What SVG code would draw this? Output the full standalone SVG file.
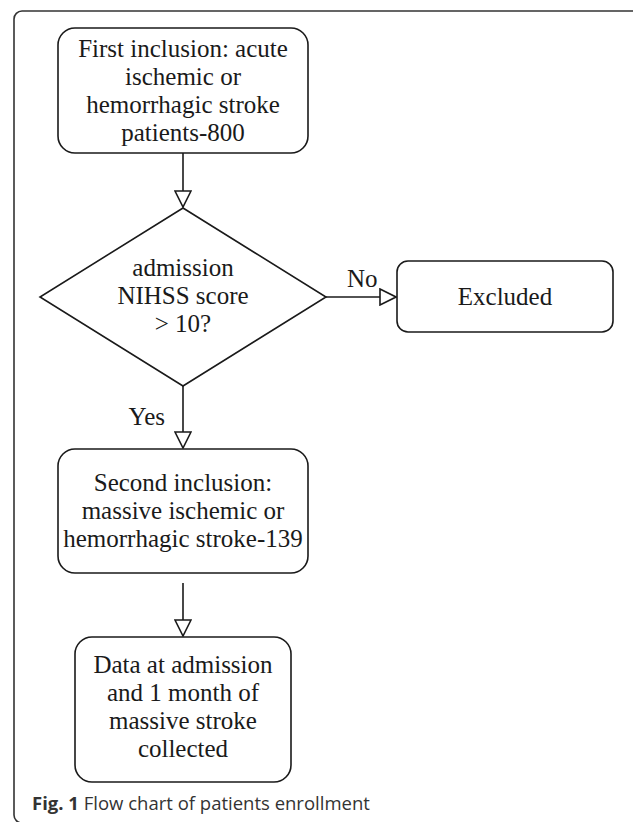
<svg xmlns="http://www.w3.org/2000/svg" width="633" height="822" viewBox="0 0 633 822">
<style>
.box{fill:#fff;stroke:#1a1a1a;stroke-width:1.6}
.t{font-family:"Liberation Serif","Times New Roman",serif;font-size:25px;fill:#1a1a1a;text-anchor:middle}
.lbl{font-family:"Liberation Serif","Times New Roman",serif;font-size:25px;fill:#1a1a1a}
.ln{stroke:#1a1a1a;stroke-width:1.6;fill:none}
.cap{font-family:"Open Sans","Noto Sans",sans-serif;font-size:18.5px;fill:#333}
</style>
<defs>
<marker id="ah" viewBox="0 0 18 18" refX="17" refY="9" markerWidth="18" markerHeight="18" markerUnits="userSpaceOnUse" orient="auto">
<path d="M1,1 L17,9 L1,17 Z" fill="#fff" stroke="#1a1a1a" stroke-width="1.6"/>
</marker>
</defs>
<rect x="14" y="11" width="640" height="812" rx="8" fill="none" stroke="#333" stroke-width="1.6"/>
<g id="connectors">
<line class="ln" x1="183" y1="153" x2="183" y2="207" marker-end="url(#ah)"/>
<line class="ln" x1="326" y1="297" x2="396" y2="297" marker-end="url(#ah)"/>
<line class="ln" x1="183" y1="386" x2="183" y2="448" marker-end="url(#ah)"/>
<line class="ln" x1="183" y1="583" x2="183" y2="636" marker-end="url(#ah)"/>
<text class="lbl" x="347" y="287">No</text>
<text class="lbl" x="165" y="425" text-anchor="end">Yes</text>
</g>
<g id="first">
<rect class="box" x="58" y="28" width="250" height="125" rx="17"/>
<text class="t" x="183" y="56.5">First inclusion: acute</text>
<text class="t" x="183" y="84.5">ischemic or</text>
<text class="t" x="183" y="112.5">hemorrhagic stroke</text>
<text class="t" x="183" y="140.5">patients-800</text>
</g>
<g id="decision">
<polygon class="box" points="183,208 326,297 183,386 40,297"/>
<text class="t" x="183" y="276">admission</text>
<text class="t" x="183" y="304">NIHSS score</text>
<text class="t" x="183" y="332">&gt; 10?</text>
</g>
<g id="excluded">
<rect class="box" x="397" y="261" width="216" height="71" rx="11"/>
<text class="t" x="505" y="305">Excluded</text>
</g>
<g id="second">
<rect class="box" x="58" y="449" width="250" height="124" rx="17"/>
<text class="t" x="183" y="491">Second inclusion:</text>
<text class="t" x="183" y="519">massive ischemic or</text>
<text class="t" x="183" y="547">hemorrhagic stroke-139</text>
</g>
<g id="data">
<rect class="box" x="75" y="637" width="216" height="145" rx="17"/>
<text class="t" x="183" y="673">Data at admission</text>
<text class="t" x="183" y="701">and 1 month of</text>
<text class="t" x="183" y="729">massive stroke</text>
<text class="t" x="183" y="757">collected</text>
</g>
<text class="cap" x="32" y="810"><tspan font-weight="bold">Fig. 1</tspan> Flow chart of patients enrollment</text>
</svg>
